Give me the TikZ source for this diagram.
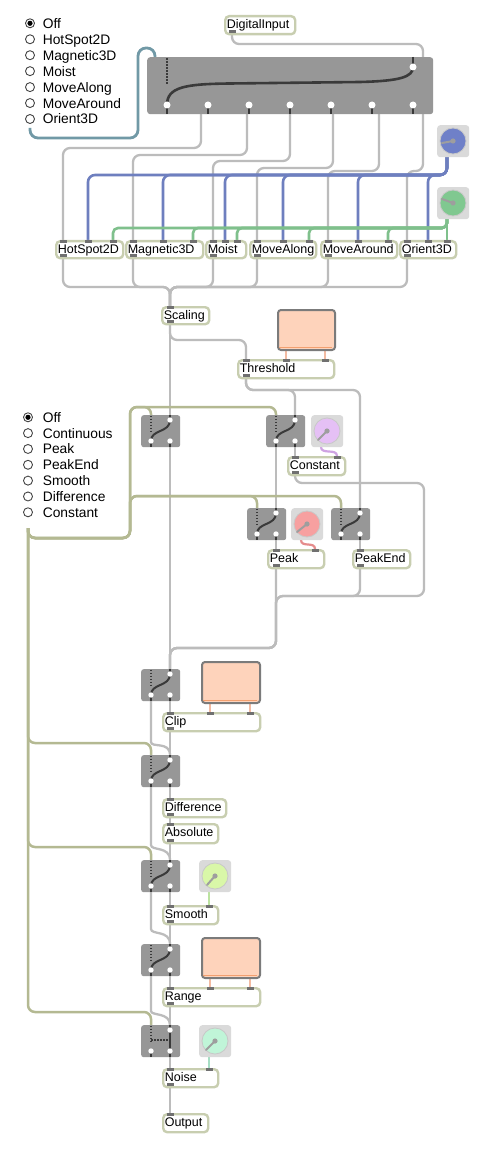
\documentclass[tikz,border=0pt]{standalone}
\usepackage{fontspec}
\setmainfont{Liberation Sans}
\usetikzlibrary{calc}
\pgfdeclarelayer{back}
\pgfdeclarelayer{bg}
\pgfsetlayers{back,bg,main}
\definecolor{cordc}{HTML}{BCBCBC}
\definecolor{olivec}{HTML}{B4B992}
\definecolor{bluec}{HTML}{6E7FBF}
\definecolor{greenc}{HTML}{7FC08C}
\definecolor{tealc}{HTML}{7199A6}
\definecolor{legc}{HTML}{F3BBA2}
\definecolor{boxc}{HTML}{C8CEB0}
\definecolor{portc}{HTML}{707070}
\definecolor{darkc}{HTML}{3A3A3A}
\definecolor{gatec}{HTML}{979797}
\definecolor{dialbg}{HTML}{DADADA}
\definecolor{dialring}{HTML}{C8C8C8}
\definecolor{needlec}{HTML}{9E9E9E}
\definecolor{dblue}{HTML}{6F80C8}
\definecolor{dgreen}{HTML}{80C890}
\definecolor{dpurple}{HTML}{E5C0F5}
\definecolor{dred}{HTML}{F7A0A0}
\definecolor{dyellow}{HTML}{D9F7A8}
\definecolor{dmint}{HTML}{C0F5D8}
\definecolor{pcordc}{HTML}{CFA3E3}
\definecolor{rcordc}{HTML}{E58C8C}
\definecolor{ycordc}{HTML}{BCE3A0}
\definecolor{mcordc}{HTML}{A6DEC4}
\definecolor{peachc}{HTML}{FED3BB}
\definecolor{peachbd}{HTML}{7B7B7B}
\definecolor{peachln}{HTML}{F2A070}
\definecolor{radioc}{HTML}{444444}

\newcommand\objb[6]{%
  \node[objbox, minimum width={#4-#2}, minimum height={#5-#3}] (#1) at (#2,#3) {};
  \node[lbl] (#1-t) at ({#2+2.6},{#3+13.3}) {#6};}
\newcommand\inls[3]{%
  \foreach \ix [count=\kk] in {#3} {%
    \coordinate (#1-i\kk) at (\ix,#2);
    \fill[portc] ({\ix-3.5},{#2-0.2}) rectangle ({\ix+3.5},{#2+2.8});}}
\newcommand\outp[3]{%
  \coordinate (#1-o) at (#2,#3);
  \fill[portc] ({#2-3.5},{#3-2.8}) rectangle ({#2+3.5},{#3+0.2});}
\newcommand\scurve{\draw[swl] (10,26) .. controls (10,14) and (29,18) .. (29,5);}
\newcommand\ncurve{\draw[dotl] (10,15) -- (27,15); \draw[swl] (29,5) -- (29,26);}
\newcommand\gsw[4]{%
  \node[fill=gatec, rounded corners=2.5pt, minimum width=39, minimum height=32, inner sep=0pt, anchor=north west] (#1) at (#2,#3) {};
  \begin{scope}[shift={(#2,#3)}]
    \coordinate (#1-c) at (10,0); \coordinate (#1-d) at (29,0);
    \coordinate (#1-l) at (10,32); \coordinate (#1-r) at (29,32);
    \draw[dotl] (10,0.8) -- (10,16);
    \draw[swl] (29,0) -- (29,5) (10,26) -- (10,32) (29,26) -- (29,32);
    #4
    \fill[white] (29,5) circle (2.7pt) (10,26) circle (2.7pt) (29,26) circle (2.7pt);
  \end{scope}}
\newcommand\dial[6]{%
  \node[fill=dialbg, rounded corners=3pt, minimum width=32, minimum height=32, inner sep=0pt, anchor=north west] (#1) at (#2,#3) {};
  \filldraw[fill=#4, draw=dialring, line width=0.8pt] ({#2+16},{#3+16}) circle (13pt);
  \draw[needlec, line width=2pt, line cap=round] ({#2+16},{#3+16}) -- ++(#5,#6);
  \fill[needlec] ({#2+16},{#3+16}) circle (2.6pt);
  \coordinate (#1-o) at ({#2+10},{#3+32});}
\newcommand\pch[7]{%
  \node[fill=peachc, draw=peachbd, line width=2pt, rounded corners=3pt, minimum width={#4-#2}, minimum height={#5-#3}, inner sep=0pt, anchor=north west] (#1) at (#2,#3) {};
  \draw[peachln, line width=1pt] ({#2+2},{#5-2}) -- ({#4-2},{#5-2});
  \coordinate (#1-a) at (#6,#5); \coordinate (#1-b) at (#7,#5);}
\newcommand\radio[5]{%
  \foreach \rl [count=\kk] in {#5} {%
    \node[circle, draw=radioc, line width=0.9pt, fill=white, minimum size=9pt, inner sep=0pt] (#1\kk) at (#2,{#3+(\kk-1)*#4}) {};
    \node[rlbl] (#1t\kk) at (42.6,{#3+(\kk-1)*#4+5}) {\rl};}
  \fill[black] (#11) circle (2.6pt);}

\begin{document}
\begin{tikzpicture}[x=1pt,y=-1pt,
  gcord/.style={draw=cordc,line width=2.3pt,rounded corners=7pt},
  ocord/.style={draw=olivec,line width=2.5pt,rounded corners=7pt},
  bcord/.style={draw=bluec,line width=2.6pt,rounded corners=7pt},
  grcord/.style={draw=greenc,line width=2.6pt,rounded corners=5pt},
  tcord/.style={draw=tealc,line width=2.8pt,rounded corners=8pt},
  legl/.style={draw=legc,line width=2pt},
  objbox/.style={draw=boxc,line width=2.4pt,fill=white,rounded corners=4pt,inner sep=0pt,anchor=north west},
  lbl/.style={inner sep=0pt,anchor=base west,font=\fontsize{12.5}{15}\selectfont},
  rlbl/.style={inner sep=0pt,anchor=base west,font=\fontsize{13.8}{16}\selectfont},
  swl/.style={draw=darkc,line width=2pt},
  dotl/.style={draw=darkc,line width=1.5pt,dash pattern=on 1.6pt off 1.4pt},
]
\useasboundingbox (0,0) rectangle (489,1150);
\begin{pgfonlayer}{back}\fill[white] (0,0) rectangle (489,1150);\end{pgfonlayer}

% ---------- radios
\radio{ra}{30}{23.3}{15.95}{Off,HotSpot2D,Magnetic3D,Moist,MoveAlong,MoveAround,Orient3D}
\radio{rb}{28}{417.3}{15.83}{Off,Continuous,Peak,PeakEnd,Smooth,Difference,Constant}
\coordinate (ra-o) at (30,128);
\coordinate (rb-o) at (28,528);

% ---------- big gate
\node[fill=gatec, rounded corners=3pt, minimum width=286, minimum height=57, inner sep=0pt, anchor=north west] (gate) at (147,57) {};
\coordinate (gate-c) at (155,57);
\coordinate (gate-d) at (423,57);
\coordinate (gate-o1) at (201,114);
\coordinate (gate-o2) at (247,114);
\coordinate (gate-o3) at (290,114);
\coordinate (gate-o4) at (333,114);
\coordinate (gate-o5) at (379,114);
\coordinate (gate-o6) at (423,114);
\draw[dotl] (167,58) -- (167,84);
\draw[swl] (413,57) -- (413,67);
\foreach \x in {167,208,249,290,331,372,413} \draw[swl] (\x,105) -- (\x,114);
\draw[darkc, line width=2.6pt] (167,105) .. controls (167,87) and (185,84) .. (230,83.5) -- (360,82) .. controls (400,81) and (413,77) .. (413,67);
\foreach \x in {167,208,249,290,331,372,413} \fill[white] (\x,105) circle (3.5pt);
\fill[white] (413,67) circle (3.5pt);

% ---------- boxes
\objb{dig}{224}{15}{294}{33}{DigitalInput} \outp{dig}{232}{33}
\objb{hot}{55}{240}{122}{257}{HotSpot2D} \inls{hot}{240}{63,88,113} \outp{hot}{63}{257}
\objb{mag}{125}{240}{202}{257}{Magnetic3D} \inls{mag}{240}{133,163,193} \outp{mag}{133}{257}
\objb{moi}{205}{240}{245}{257}{Moist} \inls{moi}{240}{213,225,237} \outp{moi}{213}{257}
\objb{mal}{249}{240}{315}{257}{MoveAlong} \inls{mal}{240}{257,283,309} \outp{mal}{257}{257}
\objb{mar}{320}{240}{396}{257}{MoveAround} \inls{mar}{240}{328,358,388} \outp{mar}{328}{257}
\objb{ori}{399}{240}{455}{257}{Orient3D} \inls{ori}{240}{407,428,447} \outp{ori}{407}{257}
\objb{sca}{161}{306}{208}{323}{Scaling} \inls{sca}{306}{170} \outp{sca}{170}{323}
\objb{thr}{237}{359}{333}{377}{Threshold} \inls{thr}{359}{246,286,325} \outp{thr}{246}{377}
\objb{con}{287}{456}{344}{474}{Constant} \inls{con}{456}{295,337} \outp{con}{295}{474}
\objb{pea}{267}{549}{323}{567}{Peak} \inls{pea}{549}{276,315} \outp{pea}{276}{567}
\objb{pen}{352}{549}{409}{567}{PeakEnd} \inls{pen}{549}{360} \outp{pen}{360}{567}
\objb{cli}{162}{712}{259}{730}{Clip} \inls{cli}{712}{170,210,250} \outp{cli}{170}{730}
\objb{dif}{162}{798}{225}{816}{Difference} \inls{dif}{798}{170} \outp{dif}{170}{816}
\objb{abs}{162}{823}{217}{842}{Absolute} \inls{abs}{823}{170} \outp{abs}{170}{842}
\objb{smo}{162}{905}{217}{923}{Smooth} \inls{smo}{905}{170,209} \outp{smo}{170}{923}
\objb{ran}{162}{987}{259}{1005}{Range} \inls{ran}{987}{170,210,250} \outp{ran}{170}{1005}
\objb{noi}{162}{1068}{217}{1086}{Noise} \inls{noi}{1068}{170,209} \outp{noi}{170}{1086}
\objb{out}{162}{1113}{207}{1131}{Output} \inls{out}{1113}{170}

% ---------- small switches
\gsw{s1}{141}{415}{\scurve}
\gsw{s2}{266}{415}{\scurve}
\gsw{s3}{247}{508}{\scurve}
\gsw{s4}{331}{508}{\scurve}
\gsw{s5}{141}{669}{\scurve}
\gsw{s6}{141}{755}{\scurve}
\gsw{s7}{141}{860}{\scurve}
\gsw{s8}{141}{944}{\scurve}
\gsw{s9}{141}{1025}{\ncurve}

% ---------- dials
\dial{bd}{437}{125}{dblue}{-11}{2}
\dial{gd}{437}{187}{dgreen}{-11}{-4}
\dial{pd}{311}{415}{dpurple}{-9}{9}
\dial{rd}{291}{508}{dred}{-10}{8}
\dial{yd}{199}{860}{dyellow}{-8}{9}
\dial{md}{199}{1025}{dmint}{-9}{9}

% ---------- peach boxes
\pch{p1}{277}{309}{334}{349}{286}{325}
\pch{p2}{201}{661}{259}{702}{210}{250}
\pch{p3}{201}{937}{259}{977}{210}{250}

% ---------- cords
\begin{pgfonlayer}{bg}
\draw[gcord] (dig-o) -- ++(0,11) -| (gate-d);
\draw[tcord] (ra-o) -- ++(0,10) -| (138,48) -| (gate-c);
\draw[gcord] (gate-o1) -- ++(0,34) -| (hot-i1);
\draw[gcord] (gate-o2) -- ++(0,41) -| (mag-i1);
\draw[gcord] (gate-o3) -- ++(0,47) -| (moi-i1);
\draw[gcord] (gate-o4) -- ++(0,54) -| (mal-i1);
\draw[gcord] (gate-o5) -- ++(0,57) -| (mar-i1);
\draw[gcord] (gate-o6) -- ++(0,57) -| (ori-i1);
\foreach \m in {hot,mag,moi,mal,mar,ori} \draw[bcord] (bd-o) -- ++(0,18) -| (\m-i2);
\foreach \m in {hot,mag,moi,mal,mar} \draw[grcord] (gd-o) -- ++(0,9) -| (\m-i3);
\draw[grcord] (gd-o) -- (ori-i3);
\foreach \m in {hot,mag,moi,mal,mar,ori} \draw[gcord] (\m-o) -- ++(0,30) -| (sca-i1);
\draw[gcord] (sca-o) -- (s1-d);
\draw[gcord] (sca-o) -- ++(0,17) -| (thr-i1);
\draw[legl] (p1-a) -- (thr-i2);
\draw[legl] (p1-b) -- (thr-i3);
\draw[gcord] (thr-o) -- ++(0,13) -| (s2-d);
\draw[gcord] (thr-o) -- ++(0,13) -| (s4-d);
\draw[gcord] (s2-l) -- (s3-d);
\draw[gcord] (s2-r) -- (con-i1);
\draw[draw=pcordc, line width=2.2pt] (pd-o) .. controls (321,455) and (337,448) .. (con-i2);
\draw[gcord] (con-o) -- ++(0,9) -| (424,596) -| (276,648) -| (s5-d);
\draw[gcord] (s3-r) -- (pea-i1);
\draw[draw=rcordc, line width=2.2pt] (rd-o) .. controls (301,548) and (315,541) .. (pea-i2);
\draw[gcord] (pea-o) -- (276,648) -| (s5-d);
\draw[gcord] (s4-r) -- (pen-i1);
\draw[gcord] (pen-o) -- ++(0,29) -| (276,648) -| (s5-d);
\draw[gcord] (s1-r) -- (s5-d);
% chain
\draw[gcord] (s5-r) -- (cli-i1);
\draw[legl] (p2-a) -- (cli-i2);
\draw[legl] (p2-b) -- (cli-i3);
\draw[gcord] (cli-o) -- (s6-d);
\draw[gcord] (s5-l) -- (151,735) .. controls (151,748) and (170,741) .. (s6-d);
\draw[gcord] (s6-r) -- (dif-i1);
\draw[gcord] (dif-o) -- (abs-i1);
\draw[gcord] (abs-o) -- (s7-d);
\draw[gcord] (s6-l) -- (151,838) .. controls (151,851) and (170,846) .. (s7-d);
\draw[gcord] (s7-r) -- (smo-i1);
\draw[draw=ycordc, line width=2pt] (yd-o) -- (smo-i2);
\draw[gcord] (smo-o) -- (s8-d);
\draw[gcord] (s7-l) -- (151,922) .. controls (151,935) and (170,930) .. (s8-d);
\draw[gcord] (s8-r) -- (ran-i1);
\draw[legl] (p3-a) -- (ran-i2);
\draw[legl] (p3-b) -- (ran-i3);
\draw[gcord] (ran-o) -- (s9-d);
\draw[gcord] (s8-l) -- (151,1004) .. controls (151,1016) and (170,1012) .. (s9-d);
\draw[gcord] (s9-r) -- (noi-i1);
\draw[draw=mcordc, line width=2pt] (md-o) -- (noi-i2);
\draw[gcord] (noi-o) -- (out-i1);
% olive control cords
\draw[ocord] (rb-o) -- ++(0,10) -| (130,407) -| (s2-c);
\draw[ocord] (rb-o) -- ++(0,10) -| (130,407) -| (s1-c);
\draw[ocord] (rb-o) -- ++(0,10) -| (130,496) -| (s3-c);
\draw[ocord] (rb-o) -- ++(0,10) -| (130,496) -| (s4-c);
\draw[ocord] (rb-o) -- (28,743) -| (s6-c);
\draw[ocord] (rb-o) -- (28,847) -| (s7-c);
\draw[ocord] (rb-o) -- (28,1012) -| (s9-c);
\end{pgfonlayer}
\end{tikzpicture}
\end{document}
